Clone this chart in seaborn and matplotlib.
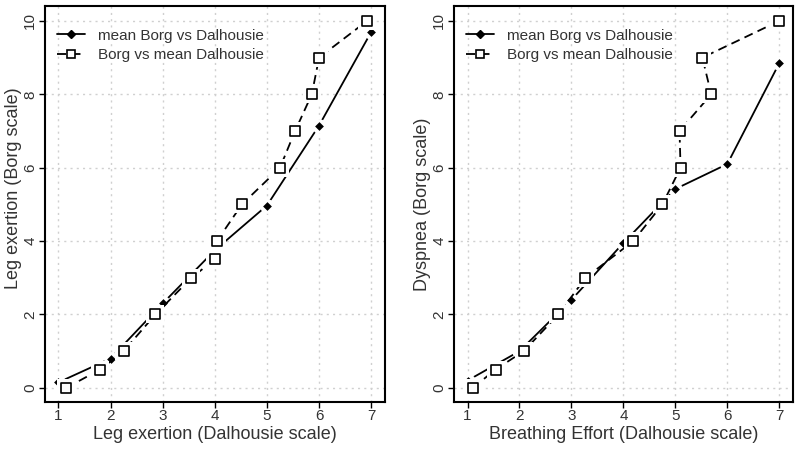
import matplotlib
matplotlib.use("Agg")
import matplotlib.pyplot as plt
import seaborn as sns

# Left panel: leg exertion
leg_mean_x = [1, 2, 3, 4, 5, 6, 7]
leg_mean_y = [0.15, 0.8, 2.3, 3.75, 4.97, 7.15, 9.7]
leg_borg_x = [1.15, 1.8, 2.25, 2.86, 3.55, 4.0, 4.04, 4.52, 5.25, 5.54, 5.86, 6.0, 6.92]
leg_borg_y = [0, 0.5, 1, 2, 3, 3.5, 4, 5, 6, 7, 8, 9, 10]

# Right panel: breathing effort / dyspnea
br_mean_x = [1, 2, 3, 4, 5, 6, 7]
br_mean_y = [0.2, 1.0, 2.4, 3.95, 5.42, 6.1, 8.85]
br_borg_x = [1.1, 1.54, 2.08, 2.75, 3.27, 4.19, 4.75, 5.1, 5.08, 5.69, 5.52, 7.0]
br_borg_y = [0, 0.5, 1, 2, 3, 4, 5, 6, 7, 8, 9, 10]

x_ticks = [1, 2, 3, 4, 5, 6, 7]
y_ticks = [0, 2, 4, 6, 8, 10]

sns.set_style("white")
plt.rcParams['font.family'] = ['Liberation Sans', 'DejaVu Sans']

fig = plt.figure(figsize=(8, 4.51), dpi=100)
ax1 = fig.add_axes([0.056, 0.109, 0.425, 0.878])
ax2 = fig.add_axes([0.5675, 0.109, 0.4235, 0.878])

dash = (0, (5, 3))


def draw_panel(ax, mx, my, bx, by, xlabel, ylabel):
    # mean Borg vs Dalhousie: solid line with filled diamonds
    sns.lineplot(x=mx, y=my, ax=ax, sort=False, estimator=None, color="black",
                 linewidth=1.3, zorder=3)
    sns.scatterplot(x=mx, y=my, ax=ax, color="white", s=110, linewidth=0, zorder=3.1)
    sns.scatterplot(x=mx, y=my, ax=ax, color="black", marker="D", s=20,
                    linewidth=0, zorder=3.2)
    # Borg vs mean Dalhousie: dashed line with open squares
    sns.lineplot(x=bx, y=by, ax=ax, sort=False, estimator=None, color="black",
                 linewidth=1.3, linestyle=dash, zorder=3.3)
    sns.scatterplot(x=bx, y=by, ax=ax, color="white", s=150, linewidth=0,
                    marker="s", zorder=3.4)
    sns.scatterplot(x=bx, y=by, ax=ax, color="white", edgecolor="black", marker="s",
                    s=45, linewidth=1.2, zorder=3.5)

    ax.set_xlim(0.74, 7.26)
    ax.set_ylim(-0.38, 10.41)
    ax.set_xticks(x_ticks)
    ax.set_yticks(y_ticks)
    ax.grid(True, color="#d0d0d0", linestyle=(0, (1.5, 3)), linewidth=1)
    ax.set_axisbelow(True)
    for sp in ax.spines.values():
        sp.set_color("black")
        sp.set_linewidth(1.5)
    ax.tick_params(axis="both", direction="out", length=4, width=1, color="black",
                   labelsize=11, labelcolor="#333333", left=True, bottom=True, pad=1.5)
    for lab in ax.get_yticklabels():
        lab.set_rotation(90)
        lab.set_va("center")
    ax.set_xlabel(xlabel, fontsize=13, color="#333333", labelpad=1.5)
    ax.set_ylabel(ylabel, fontsize=13, color="#333333", labelpad=1)

    h1 = plt.Line2D([], [], color="black", linewidth=1.3, marker="D", markersize=4)
    h2 = plt.Line2D([], [], color="black", linewidth=1.3, linestyle=dash,
                    marker="s", markersize=6, markerfacecolor="white",
                    markeredgewidth=1.2)
    leg = ax.legend([h1, h2], ["mean Borg vs Dalhousie", "Borg vs mean Dalhousie"],
                    loc="upper left", bbox_to_anchor=(0.018, 0.958), frameon=False,
                    fontsize=11, handlelength=1.8, handletextpad=0.85,
                    borderaxespad=0, labelspacing=0.35, borderpad=0.4)
    for t in leg.get_texts():
        t.set_color("#333333")


draw_panel(ax1, leg_mean_x, leg_mean_y, leg_borg_x, leg_borg_y,
           "Leg exertion (Dalhousie scale)", "Leg exertion (Borg scale)")
draw_panel(ax2, br_mean_x, br_mean_y, br_borg_x, br_borg_y,
           "Breathing Effort (Dalhousie scale)", "Dyspnea (Borg scale)")
ax1.yaxis.label.set_y(0.54)

fig.savefig("out.png", dpi=100)
